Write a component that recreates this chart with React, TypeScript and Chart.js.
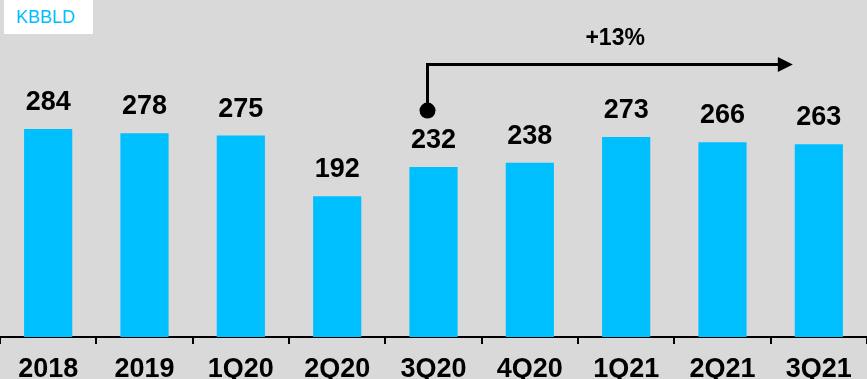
import React, { useEffect, useRef } from "react";
import { Chart, registerables } from "chart.js";

Chart.register(...registerables);

const categories = ["2018", "2019", "1Q20", "2Q20", "3Q20", "4Q20", "1Q21", "2Q21", "3Q21"];
const values = [284, 278, 275, 192, 232, 238, 273, 266, 263];
const growthLabel = "+13%";
const badgeText = "KBBLD";

const FONT = '"Liberation Sans", Arial, Helvetica, sans-serif';
const BAR = "#00BFFF";
const BG = "#D9D9D9";

const valueLabels = {
  id: "valueLabels",
  afterDatasetsDraw(chart: any) {
    const ctx = chart.ctx;
    const meta = chart.getDatasetMeta(0);
    ctx.save();
    ctx.font = `bold 27px ${FONT}`;
    ctx.fillStyle = "#000";
    ctx.textAlign = "center";
    ctx.textBaseline = "alphabetic";
    meta.data.forEach((bar: any, i: number) => {
      ctx.fillText(String(values[i]), bar.x, bar.y - 19);
    });
    ctx.restore();
  },
};

const growthArrow = {
  id: "growthArrow",
  afterDatasetsDraw(chart: any) {
    const ctx = chart.ctx;
    const xs = chart.scales.x;
    const ys = chart.scales.y;
    const x0 = xs.getPixelForValue(4) - 6;
    const x1 = xs.getPixelForValue(8) - 26;
    const yLine = ys.getPixelForValue(372);
    const yDot = ys.getPixelForValue(309);
    ctx.save();
    ctx.strokeStyle = "#000";
    ctx.fillStyle = "#000";
    ctx.lineWidth = 3;
    ctx.beginPath();
    ctx.moveTo(x0, yDot);
    ctx.lineTo(x0, yLine);
    ctx.lineTo(x1 - 14, yLine);
    ctx.stroke();
    ctx.beginPath();
    ctx.moveTo(x1 - 15, yLine - 7.5);
    ctx.lineTo(x1, yLine);
    ctx.lineTo(x1 - 15, yLine + 7.5);
    ctx.closePath();
    ctx.fill();
    ctx.beginPath();
    ctx.arc(x0, yDot, 8, 0, Math.PI * 2);
    ctx.fill();
    ctx.font = `bold 23px ${FONT}`;
    ctx.textAlign = "center";
    ctx.textBaseline = "alphabetic";
    ctx.fillText(growthLabel, xs.getPixelForValue(6) - 11, ys.getPixelForValue(398));
    ctx.restore();
  },
};

export default function App() {
  const ref = useRef<HTMLCanvasElement | null>(null);
  useEffect(() => {
    document.body.style.margin = "0";
    const chart = new Chart(ref.current as HTMLCanvasElement, {
      type: "bar",
      data: {
        labels: categories,
        datasets: [
          {
            data: values,
            backgroundColor: BAR,
            borderWidth: 0,
            barPercentage: 0.5,
            categoryPercentage: 1,
          },
        ],
      },
      options: {
        animation: false,
        responsive: true,
        maintainAspectRatio: false,
        layout: { padding: 0 },
        plugins: {
          legend: { display: false },
          tooltip: { enabled: false },
        },
        scales: {
          x: {
            offset: true,
            grid: {
              display: true,
              offset: true,
              drawOnChartArea: false,
              drawTicks: true,
              tickLength: 7,
              color: "#000",
              lineWidth: 2,
            },
            border: { display: true, color: "#000", width: 2 },
            ticks: {
              color: "#000",
              padding: 12,
              font: { family: FONT, size: 27, weight: "bold", lineHeight: 1 },
              maxRotation: 0,
              autoSkip: false,
            },
          },
          y: {
            display: false,
            min: 0,
            max: 460,
          },
        },
      },
      plugins: [valueLabels, growthArrow],
    });
    return () => chart.destroy();
  }, []);
  return (
    <div
      style={{
        position: "fixed",
        left: 0,
        top: 0,
        width: 867,
        height: 379,
        background: BG,
        overflow: "hidden",
      }}
    >
      <div style={{ position: "absolute", left: 0, top: 0, width: 867, height: 395 }}>
        <canvas ref={ref} />
      </div>
      <div
        style={{
          position: "absolute",
          left: 4,
          top: 0,
          width: 89,
          height: 34,
          background: "#fff",
          color: BAR,
          fontFamily: FONT,
          fontSize: 18,
          lineHeight: "34px",
          paddingLeft: 12,
          boxSizing: "border-box",
        }}
      >
        {badgeText}
      </div>
    </div>
  );
}
